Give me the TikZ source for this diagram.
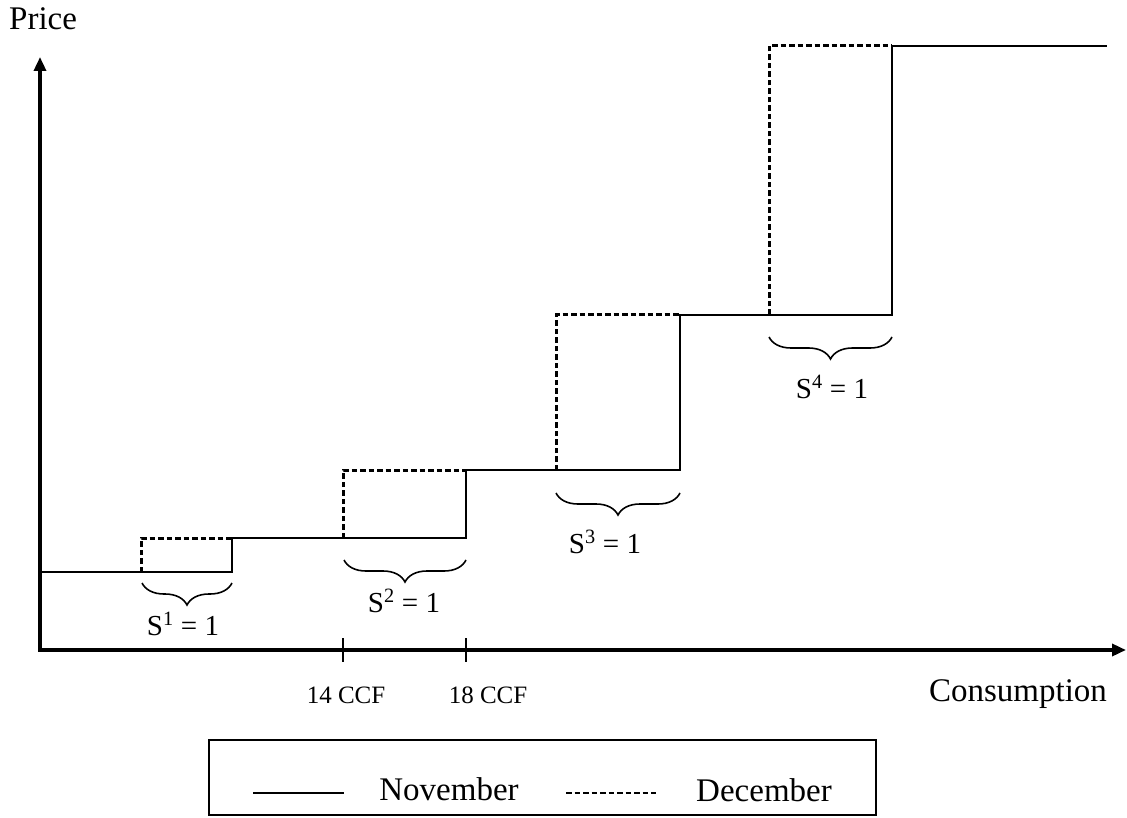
\documentclass[tikz,border=0pt]{standalone}
\usepackage{fontspec}
\setmainfont{Liberation Serif}
\usetikzlibrary{arrows.meta,decorations.pathreplacing}
\begin{document}
\begin{tikzpicture}[x=1pt,y=-1pt,
  axis/.style={line width=3.4pt,{Triangle[length=14pt,width=12pt]}-{Triangle[length=14pt,width=12pt]}},
  nov/.style={line width=1.6pt},
  dec/.style={line width=3pt,dash pattern=on 5.5pt off 3pt},
  brc/.style={line width=1.6pt,decorate,decoration={brace,amplitude=22pt,mirror}},
  big/.style={font=\fontsize{33}{40}\selectfont,inner sep=0pt,anchor=base},
  slab/.style={font=\fontsize{29}{34}\selectfont,inner sep=0pt,anchor=base},
  ccf/.style={font=\fontsize{25}{30}\selectfont,inner sep=0pt,anchor=base},
  tickm/.style={line width=1.5pt}]
\useasboundingbox (0,0) rectangle (1127,818);
% axes
\coordinate (ytop) at (40,57);
\coordinate (O) at (40,650);
\coordinate (xend) at (1126,650);
\draw[axis] (ytop) -- (O) -- (xend);
% November (solid)
\draw[nov] (40,572) -- (232,572) -- (232,538) -- (466,538) -- (466,470)
  -- (680,470) -- (680,315) -- (892,315) -- (892,46) -- (1107,46);
% December (dashed)
\draw[dec] (141,572) -- (141,538) -- (232,538);
\draw[dec] (343,538) -- (343,470) -- (466,470);
\draw[dec] (556,470) -- (556,315) -- (680,315);
\draw[dec] (769,315) -- (769,46) -- (892,46);
% braces
\draw[brc] (142,583) -- (232,583);
\draw[brc] (344,560) -- (466,560);
\draw[brc] (556,493) -- (680,493);
\draw[brc] (769,337) -- (892,337);
\node[slab] (s1) at (183,635) {S\textsuperscript{1} = 1};
\node[slab] (s2) at (404,612) {S\textsuperscript{2} = 1};
\node[slab] (s3) at (605,553) {S\textsuperscript{3} = 1};
\node[slab] (s4) at (832,398) {S\textsuperscript{4} = 1};
% ticks
\draw[tickm] (343,638) -- (343,662);
\draw[tickm] (466,638) -- (466,662);
\node[ccf] (c14) at (346,703) {14 CCF};
\node[ccf] (c18) at (488,703) {18 CCF};
% axis labels
\node[big,anchor=base west] (price) at (9,30) {Price};
\node[big] (cons) at (1018,701) {Consumption};
% legend
\node[draw,line width=1.3pt,minimum width=667pt,minimum height=75pt,inner sep=0pt] (leg) at (542.5,777.5) {};
\coordinate (l1a) at (253,793);
\coordinate (l1b) at (344,793);
\draw[nov] (l1a) -- (l1b);
\node[big] (nov) at (449,800) {November};
\coordinate (l2a) at (566,793);
\coordinate (l2b) at (656,793);
\draw[dec,line width=2.4pt] (l2a) -- (l2b);
\node[big] (dec) at (764,801) {December};
\end{tikzpicture}
\end{document}
